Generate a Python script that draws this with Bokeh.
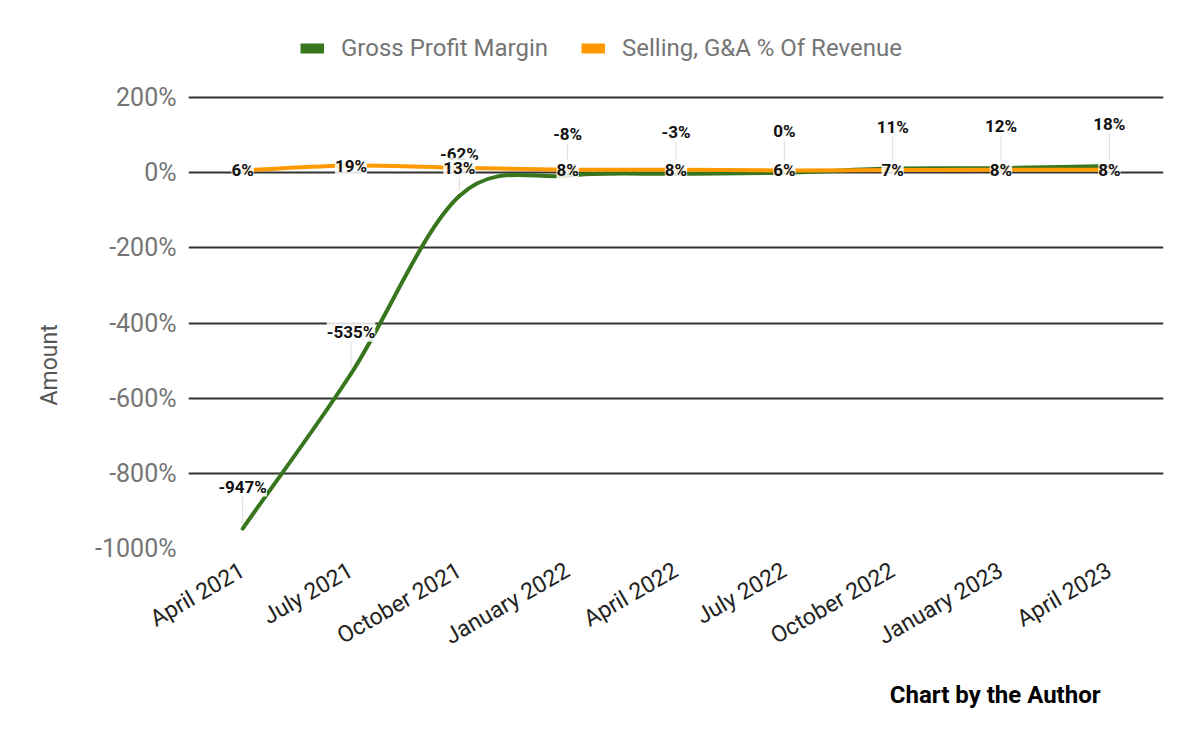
import math
from bokeh.plotting import figure
from bokeh.models import (ColumnDataSource, Range1d, FixedTicker, PrintfTickFormatter,
                          LabelSet, Legend, LegendItem, Title)
from bokeh.core.properties import value
from bokeh.embed import file_html
from bokeh.resources import INLINE

# ---- data ----
quarters = ["April 2021", "July 2021", "October 2021", "January 2022", "April 2022",
            "July 2022", "October 2022", "January 2023", "April 2023"]
gross_margin = [-947, -535, -62, -8, -3, 0, 11, 12, 18]
sga_pct = [6, 19, 13, 8, 8, 6, 7, 8, 8]
y_ticks = [-1000, -800, -600, -400, -200, 0, 200]

GREEN = "#38761d"
ORANGE = "#ff9900"
FONT = "Roboto"

# layout (pixels)
GRID_H = 451          # height of the gridded area (-1000% .. 200%)
HEAD = 77             # room above the 200% line, inside the frame, for the legend
FW = 975
ML, MR, MT, MB = 188, 37, 20, 194
Y0, Y1 = -1000, 200
px_per_unit = GRID_H / (Y1 - Y0)

p = figure(frame_width=FW, frame_height=GRID_H + HEAD, output_backend="svg", toolbar_location=None,
           x_range=Range1d(-0.5, len(quarters) - 0.5),
           y_range=Range1d(Y0, Y1 + HEAD / px_per_unit),
           min_border_left=ML, min_border_right=MR, min_border_top=MT, min_border_bottom=MB)
p.outline_line_color = None
p.background_fill_color = "white"
p.xgrid.grid_line_color = None
p.ygrid.grid_line_color = "#333333"
p.ygrid.grid_line_width = 2

xs = list(range(len(quarters)))


def bezier_segments(x, y):
    n = len(y)
    m = []
    for i in range(n):
        if i == 0:
            m.append(y[1] - y[0])
        elif i == n - 1:
            m.append(y[-1] - y[-2])
        else:
            m.append((y[i + 1] - y[i - 1]) / 2)
    d = dict(x0=[], y0=[], x1=[], y1=[], cx0=[], cy0=[], cx1=[], cy1=[])
    for i in range(n - 1):
        d["x0"].append(x[i]); d["y0"].append(y[i])
        d["x1"].append(x[i + 1]); d["y1"].append(y[i + 1])
        d["cx0"].append(x[i] + 1 / 3); d["cy0"].append(y[i] + m[i] / 3)
        d["cx1"].append(x[i + 1] - 1 / 3); d["cy1"].append(y[i + 1] - m[i + 1] / 3)
    return ColumnDataSource(d)


# leader lines for green labels
lead_lo = [v + 5 / px_per_unit for v in gross_margin]
lead_hi = [v + 32 / px_per_unit for v in gross_margin]
p.segment(x0=xs, y0=lead_lo, x1=xs, y1=lead_hi, line_color="#dddddd", line_width=1)

r_g = p.bezier(x0="x0", y0="y0", x1="x1", y1="y1", cx0="cx0", cy0="cy0", cx1="cx1", cy1="cy1",
               source=bezier_segments(xs, gross_margin), line_color=GREEN, line_width=4,
               line_cap="round")
r_o = p.bezier(x0="x0", y0="y0", x1="x1", y1="y1", cx0="cx0", cy0="cy0", cx1="cx1", cy1="cy1",
               source=bezier_segments(xs, sga_pct), line_color=ORANGE, line_width=4,
               line_cap="round")

src = ColumnDataSource(dict(
    x=xs, gm=gross_margin, sga=sga_pct,
    gm_text=[f"{v}%" for v in gross_margin],
    sga_text=[f"{v}%" for v in sga_pct],
))

label_kw = dict(text_align="center", text_baseline="middle",
                text_font=value(FONT), text_font_size=value("17px"), text_font_style="bold",
                text_color="#111111", background_fill_color="white",
                background_fill_alpha=0.85)
p.add_layout(LabelSet(x="x", y="gm", text="gm_text", source=src, y_offset=42, **label_kw))
p.add_layout(LabelSet(x="x", y="sga", text="sga_text", source=src, y_offset=0, **label_kw))

# legend swatches (thick bars as in the reference)
sw_g = p.line(x=[0, 0], y=[Y0 - 100, Y0 - 100], line_color=GREEN, line_width=10, line_cap="butt")
sw_o = p.line(x=[0, 0], y=[Y0 - 100, Y0 - 100], line_color=ORANGE, line_width=10, line_cap="butt")
legend = Legend(items=[LegendItem(label="Gross Profit Margin", renderers=[sw_g]),
                       LegendItem(label="Selling, G&A % Of Revenue", renderers=[sw_o])],
                orientation="horizontal", location=(112, GRID_H + HEAD - 42),
                label_text_font=FONT, label_text_font_size="24px", label_text_color="#757575",
                glyph_width=24, glyph_height=12, label_standoff=17, spacing=33,
                padding=0, margin=0, border_line_color=None, background_fill_alpha=0)
p.add_layout(legend)

# axes
p.yaxis.ticker = FixedTicker(ticks=y_ticks)
p.yaxis.formatter = PrintfTickFormatter(format="%d%%")
p.yaxis.major_label_text_font = FONT
p.yaxis.major_label_text_font_size = "25px"
p.yaxis.major_label_text_color = "#757575"
p.yaxis.major_label_standoff = 6
p.yaxis.axis_line_color = None
p.yaxis.major_tick_line_color = None
p.yaxis.minor_tick_line_color = None

amount = Title(text="Amount", align="left", offset=143, standoff=60,
               text_font=FONT, text_font_size="23px", text_font_style="normal",
               text_color="#555555")
p.add_layout(amount, "left")

p.xaxis.ticker = FixedTicker(ticks=xs)
p.xaxis.major_label_overrides = {i: q for i, q in enumerate(quarters)}
p.xaxis.major_label_orientation = math.pi / 6
p.xaxis.major_label_text_font = FONT
p.xaxis.major_label_text_font_size = "23px"
p.xaxis.major_label_text_color = "#222222"
p.xaxis.major_label_standoff = 14
p.xaxis.axis_line_color = None
p.xaxis.major_tick_line_color = None
p.xaxis.minor_tick_line_color = None

credit = Title(text="Chart by the Author", align="right", offset=63, standoff=28,
               text_font=FONT, text_font_size="24px", text_font_style="bold",
               text_color="#000000")
p.add_layout(credit, "below")

open("out.html", "w").write(file_html(p, INLINE))
